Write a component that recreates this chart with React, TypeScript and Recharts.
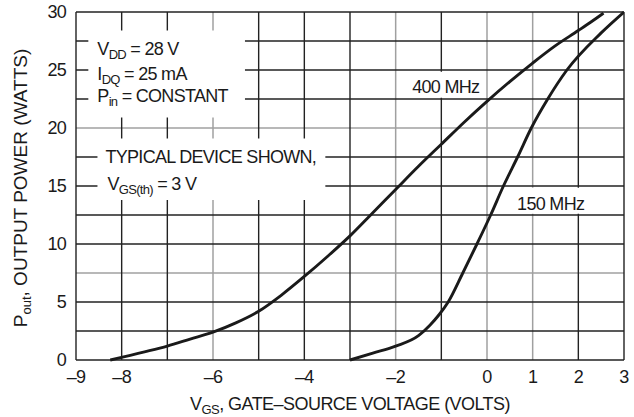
import { CartesianGrid, Label, Line, LineChart, ReferenceArea, XAxis, YAxis } from 'recharts';

document.body.style.margin = '0';

const FONT = "'Liberation Sans', Arial, Helvetica, sans-serif";
const INK = '#1a1a1a';

// 400 MHz curve (VGS volts, Pout watts)
const vgs400 = [-8.25, -7.5, -7, -6.5, -6, -5.5, -5, -4.5, -4, -3.5, -3, -2.5, -2, -1.5, -1, -0.5, 0, 0.5, 1, 1.5, 2, 2.3, 2.55];
const pout400 = [0, 0.7, 1.2, 1.8, 2.4, 3.2, 4.2, 5.6, 7.2, 8.9, 10.7, 12.7, 14.7, 16.7, 18.6, 20.5, 22.3, 24.0, 25.6, 27.1, 28.4, 29.2, 29.9];

// 150 MHz curve
const vgs150 = [-3, -2.5, -2, -1.5, -1.25, -1.05, -0.85, -0.53, -0.22, 0.08, 0.36, 0.67, 0.97, 1.33, 1.75, 2.5, 3];
const pout150 = [0, 0.6, 1.2, 2.1, 3.0, 3.9, 5, 7.5, 10, 12.5, 15, 17.5, 20, 22.5, 25, 28.2, 30];

const xTicks = [-9, -8, -6, -4, -2, 0, 1, 2, 3];
const yTicks = [0, 5, 10, 15, 20, 25, 30];
// grid: dark lines and the lighter (gray) ones
const darkX = [-9, -8, -7, -5, -4, -3, -1, 2, 3];
const lightX = [-6, -2, 0, 1];
const darkY = [0, 2.5, 5, 10, 12.5, 15, 17.5, 22.5, 25, 27.5, 30];
const lightY = [7.5, 20];

const data400 = vgs400.map((v, i) => ({ vgs: v, pout: pout400[i] }));
const data150 = vgs150.map((v, i) => ({ vgs: v, pout: pout150[i] }));

const txt: any = { fontFamily: FONT, fontSize: 18, fill: INK, letterSpacing: -0.7 };
const sub = { fontSize: 13 };

const fmt = (v: number) => (v < 0 ? '\u2013' + Math.abs(v) : String(v));

const BiasLabel = ({ viewBox }: any) => {
  const { x, y } = viewBox;
  return (
    <g>
      <text x={x + 9} y={y + 24} {...txt}>
        V<tspan dy={4} {...sub}>DD</tspan>
        <tspan dy={-4}> = 28 V</tspan>
      </text>
      <text x={x + 9} y={y + 49} {...txt}>
        I<tspan dy={4} {...sub}>DQ</tspan>
        <tspan dy={-4}> = 25 mA</tspan>
      </text>
      <text x={x + 9} y={y + 71} {...txt}>
        P<tspan dy={4} {...sub}>in</tspan>
        <tspan dy={-4}> = CONSTANT</tspan>
      </text>
    </g>
  );
};

const DeviceLabel = ({ viewBox }: any) => {
  const { x, y } = viewBox;
  return (
    <g>
      <text x={x + 8} y={y + 25} {...txt}>
        TYPICAL DEVICE SHOWN,
      </text>
      <text x={x + 10} y={y + 52} {...txt}>
        V<tspan dy={4} {...sub}>GS(th)</tspan>
        <tspan dy={-4}> = 3 V</tspan>
      </text>
    </g>
  );
};

const FreqLabel = (label: string, dx: number, dy: number) => ({ viewBox }: any) => (
  <text x={viewBox.x + dx} y={viewBox.y + dy} {...txt}>
    {label}
  </text>
);

const XTitle = ({ viewBox }: any) => (
  <text x={viewBox.x + viewBox.width / 2} y={410} textAnchor="middle" {...txt} letterSpacing={-0.55}>
    V<tspan dy={4} {...sub}>GS</tspan>
    <tspan dy={-4}>, GATE–SOURCE VOLTAGE (VOLTS)</tspan>
  </text>
);

const YTitle = () => (
  <text x={0} y={0} transform="translate(27, 188) rotate(-90)" textAnchor="middle" {...txt} fontSize={19} letterSpacing={0}>
    P<tspan dy={4} {...sub}>out</tspan>
    <tspan dy={-4}>, OUTPUT POWER (WATTS)</tspan>
  </text>
);

export default function App() {
  return (
    <LineChart width={634} height={417} margin={{ top: 12, right: 10, left: 16, bottom: 7 }}>
      <XAxis
        type="number"
        dataKey="vgs"
        domain={[-9, 3]}
        ticks={xTicks}
        interval={0}
        tickFormatter={fmt}
        tickLine={false}
        axisLine={false}
        tickMargin={4}
        height={50}
        tick={{ ...txt }}
        allowDataOverflow
      >
        <Label content={XTitle} />
      </XAxis>
      <YAxis
        type="number"
        domain={[0, 30]}
        ticks={yTicks}
        interval={0}
        tickLine={false}
        axisLine={false}
        width={60}
        tickMargin={4}
        tick={{ ...txt }}
      >
        <Label content={YTitle} />
      </YAxis>
      <CartesianGrid verticalValues={lightX} horizontalValues={lightY} stroke="#a0a0a0" strokeWidth={1.5} />
      <CartesianGrid verticalValues={darkX} horizontalValues={darkY} stroke="#222" strokeWidth={1.4} />
      <ReferenceArea x1={-8.73} x2={-5.3} y1={20.9} y2={28.4} fill="#fff" fillOpacity={1} stroke="none">
        <Label content={BiasLabel} />
      </ReferenceArea>
      <ReferenceArea x1={-8.53} x2={-3.54} y1={13.8} y2={19.1} fill="#fff" fillOpacity={1} stroke="none">
        <Label content={DeviceLabel} />
      </ReferenceArea>
      <ReferenceArea x1={-1.79} x2={-0.11} y1={22.6} y2={24.85} fill="#fff" fillOpacity={1} stroke="none">
        <Label content={FreqLabel('400 MHz', 7, 21)} />
      </ReferenceArea>
      <ReferenceArea x1={0.55} x2={2.3} y1={12.6} y2={14.85} fill="#fff" fillOpacity={1} stroke="none">
        <Label content={FreqLabel('150 MHz', 5, 22)} />
      </ReferenceArea>
      <Line
        data={data400}
        dataKey="pout"
        type="monotone"
        stroke={INK}
        strokeWidth={2.9}
        dot={false}
        isAnimationActive={false}
      />
      <Line
        data={data150}
        dataKey="pout"
        type="monotone"
        stroke={INK}
        strokeWidth={2.9}
        dot={false}
        isAnimationActive={false}
      />
    </LineChart>
  );
}
